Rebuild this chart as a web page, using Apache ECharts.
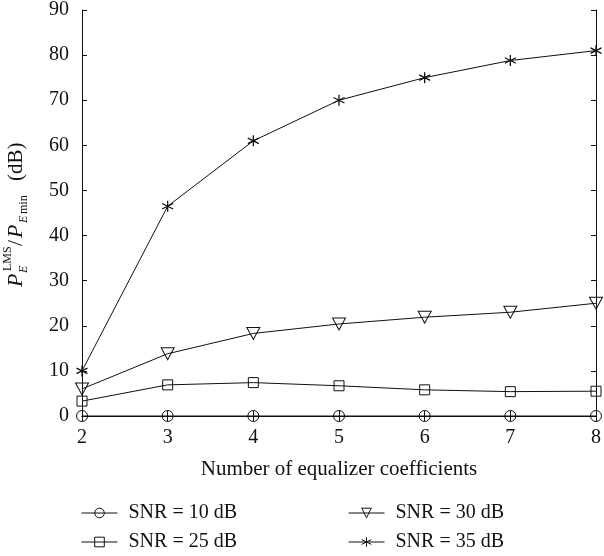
<!DOCTYPE html>
<html>
<head>
<meta charset="utf-8">
<script src="https://cdn.jsdelivr.net/npm/echarts@6/dist/echarts.min.js"></script>
<style>html,body{margin:0;padding:0;background:#fff}#c{width:604px;height:556px}</style>
</head>
<body>
<div id="c"></div>
<script>
var coefficients = [2, 3, 4, 5, 6, 7, 8];
var snr10 = [0, 0, 0, 0, 0, 0, 0];
var snr25 = [3.3, 6.9, 7.4, 6.7, 5.8, 5.4, 5.5];
var snr30 = [6.0, 13.8, 18.3, 20.4, 21.9, 23.0, 25.0];
var snr35 = [10.0, 46.5, 61.0, 70.0, 75.0, 78.8, 81.0];
var seriesNames = ['SNR = 10 dB', 'SNR = 25 dB', 'SNR = 30 dB', 'SNR = 35 dB'];
var xTicks = [2, 3, 4, 5, 6, 7, 8];
var yTicks = [0, 10, 20, 30, 40, 50, 60, 70, 80, 90];

var FONT = "'Liberation Serif', 'DejaVu Serif', serif";
function pairs(ys) { return coefficients.map(function (x, i) { return [x, ys[i]]; }); }
var starPath = 'path://M5,0L5,10M0.7,2.5L9.3,7.5M0.7,7.5L9.3,2.5';
var triPath = 'path://M0,0L10,0L5,9Z';
var NONE = 'rgba(0,0,0,0)';

function mkSeries(name, ys, symbol, size, fill, bw) {
  return {
    name: name, type: 'line', data: pairs(ys), symbol: symbol, symbolSize: size,
    clip: false, animation: false,
    lineStyle: { color: '#111', width: 1 },
    itemStyle: { color: fill, borderColor: '#111', borderWidth: bw || 1 },
    emphasis: { disabled: true }
  };
}

var chart = echarts.init(document.getElementById('c'), null, { renderer: 'canvas' });
var axisCommon = {
  axisLine: { show: true, lineStyle: { color: '#111', width: 1 } },
  axisTick: { show: true, inside: true, length: 5, lineStyle: { color: '#111' } },
  splitLine: { show: false }
};
function legendAt(name, left, top) {
  return {
    data: [name], left: left, top: top, itemWidth: 36, itemHeight: 12,
    selectedMode: false, padding: 0,
    lineStyle: { width: 1, color: '#111' },
    itemStyle: { borderWidth: 1 },
    textStyle: { fontFamily: FONT, fontSize: 20, color: '#111', padding: [0, 0, 0, 6] }
  };
}
chart.setOption({
  animation: false,
  backgroundColor: '#fff',
  grid: { left: 82, right: 5, top: 9, bottom: 140 },
  xAxis: [
    Object.assign({ type: 'value', min: xTicks[0], max: xTicks[xTicks.length - 1], interval: 1, position: 'bottom',
      name: 'Number of equalizer coefficients', nameLocation: 'middle', nameGap: 43,
      nameTextStyle: { fontFamily: FONT, fontSize: 21, color: '#111' },
      axisLabel: { fontFamily: FONT, fontSize: 20, color: '#111', margin: 12 } }, axisCommon),
    Object.assign({ type: 'value', min: xTicks[0], max: xTicks[xTicks.length - 1], interval: 1, position: 'top',
      axisLabel: { show: false } }, axisCommon)
  ],
  yAxis: [
    Object.assign({ type: 'value', min: yTicks[0], max: yTicks[yTicks.length - 1], interval: 10, position: 'left',
      axisLabel: { fontFamily: FONT, fontSize: 20, color: '#111', margin: 13 } }, axisCommon),
    Object.assign({ type: 'value', min: yTicks[0], max: yTicks[yTicks.length - 1], interval: 10, position: 'right',
      axisLabel: { show: false } }, axisCommon)
  ],
  legend: [
    legendAt(seriesNames[0], 81, 503),
    legendAt(seriesNames[2], 348, 503),
    legendAt(seriesNames[1], 81, 532),
    legendAt(seriesNames[3], 348, 532)
  ],
  series: [
    mkSeries(seriesNames[0], snr10, 'circle', 11, NONE),
    mkSeries(seriesNames[1], snr25, 'rect', 10, NONE),
    mkSeries(seriesNames[2], snr30, triPath, [13, 12], NONE),
    mkSeries(seriesNames[3], snr35, starPath, 11, '#111', 1.3)
  ],
  graphic: [{
    type: 'group', x: 16, y: 287, rotation: Math.PI / 2,
    children: [
      { type: 'text', x: 0, y: 0, style: { text: 'P', font: 'italic 22px ' + FONT, fill: '#111', textVerticalAlign: 'middle' } },
      { type: 'text', x: 16, y: -8, style: { text: 'LMS', font: '12px ' + FONT, fill: '#111', textVerticalAlign: 'middle' } },
      { type: 'text', x: 14, y: 8, style: { text: 'E', font: 'italic 12px ' + FONT, fill: '#111', textVerticalAlign: 'middle' } },
      { type: 'text', x: 41, y: 0, style: { text: '/', font: '22px ' + FONT, fill: '#111', textVerticalAlign: 'middle' } },
      { type: 'text', x: 49, y: 0, style: { text: 'P', font: 'italic 22px ' + FONT, fill: '#111', textVerticalAlign: 'middle' } },
      { type: 'text', x: 64, y: 8, style: { text: 'E', font: 'italic 12px ' + FONT, fill: '#111', textVerticalAlign: 'middle' } },
      { type: 'text', x: 73, y: 8, style: { text: 'min', font: '12px ' + FONT, fill: '#111', textVerticalAlign: 'middle' } },
      { type: 'text', x: 106, y: 0, style: { text: '(dB)', font: '21px ' + FONT, fill: '#111', textVerticalAlign: 'middle' } }
    ]
  }]
});
</script>
</body>
</html>
